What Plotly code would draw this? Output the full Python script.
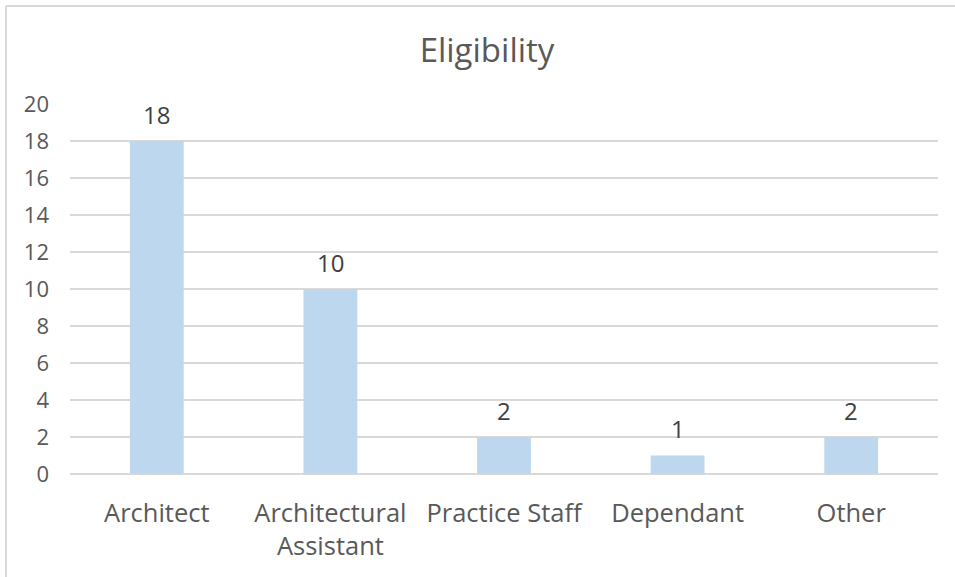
import plotly.graph_objects as go

categories = ["Architect", "Architectural<br>Assistant", "Practice Staff", "Dependant", "Other"]
counts = [18, 10, 2, 1, 2]
y_ticks = [0, 2, 4, 6, 8, 10, 12, 14, 16, 18, 20]

FONT = "Open Sans, Noto Sans, sans-serif"
GRID = "#D9D9D9"
TEXT = "#595959"

W, H = 955, 577
L, R, T, B = 70, 17, 104, 103
pw, ph = W - L - R, H - T - B

fig = go.Figure(
    go.Bar(
        x=categories,
        y=counts,
        marker=dict(color="#BDD7EE", line=dict(width=0)),
        width=0.31,
        hoverinfo="x+y",
    )
)

# value labels above each bar
for c, v in zip(categories, counts):
    fig.add_annotation(
        x=c, y=v, text=str(v), showarrow=False, yshift=27,
        font=dict(family=FONT, size=24, color="#404040"),
    )

# chart frame (left and top edges visible)
fx0 = (6 - L) / pw
fy1 = 1 + (T - 6) / ph
fig.add_shape(type="line", xref="paper", yref="paper", x0=fx0, x1=fx0, y0=-2, y1=fy1,
              line=dict(color=GRID, width=2))
fig.add_shape(type="line", xref="paper", yref="paper", x0=fx0, x1=2, y0=fy1, y1=fy1,
              line=dict(color=GRID, width=2))

fig.update_layout(
    width=W, height=H,
    margin=dict(l=L, r=R, t=T, b=B),
    paper_bgcolor="white", plot_bgcolor="white",
    title=dict(text="Eligibility", x=487 / W, xanchor="center", y=1 - 50 / H, yanchor="middle",
               font=dict(family=FONT, size=33, color=TEXT)),
    showlegend=False,
    xaxis=dict(
        showgrid=False, showline=False, zeroline=False, ticks="",
        tickfont=dict(family=FONT, size=25.5, color=TEXT),
        ticklabelstandoff=21,
    ),
    yaxis=dict(
        range=[0, 20], tickvals=y_ticks, showgrid=True, gridcolor=GRID, gridwidth=2,
        zeroline=True, zerolinecolor=GRID, zerolinewidth=2, showline=False, ticks="",
        tickfont=dict(family=FONT, size=22, color=TEXT),
        ticklabelstandoff=20,
    ),
)

fig.write_html("out.html")
